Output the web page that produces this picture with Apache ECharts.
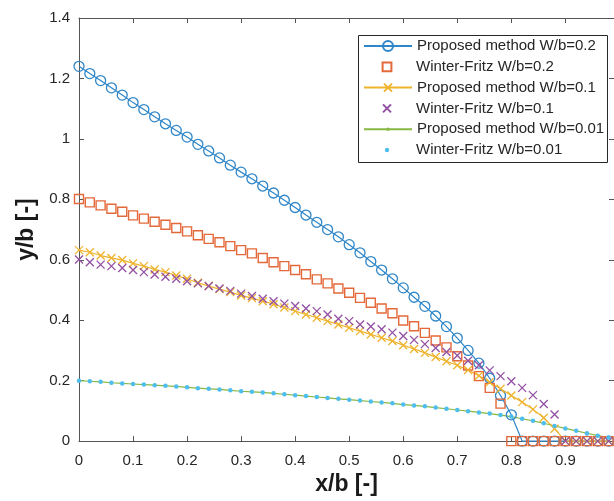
<!DOCTYPE html>
<html>
<head>
<meta charset="utf-8">
<script src="https://cdn.jsdelivr.net/npm/echarts@6/dist/echarts.min.js"></script>
<style>html,body{margin:0;padding:0;background:#fff}#c{width:614px;height:501px}</style>
</head>
<body>
<div id="c"></div>
<script>
// ---- data ----
const xValues = [0,0.02,0.04,0.06,0.08,0.10,0.12,0.14,0.16,0.18,0.20,0.22,0.24,0.26,0.28,0.30,0.32,0.34,0.36,0.38,0.40,0.42,0.44,0.46,0.48,0.50,0.52,0.54,0.56,0.58,0.60,0.62,0.64,0.66,0.68,0.70,0.72,0.74,0.76,0.78,0.80,0.82,0.84,0.86,0.88,0.90,0.92,0.94,0.96,0.98];

const proposedW02 = [1.240,1.216,1.193,1.169,1.145,1.120,1.097,1.073,1.050,1.028,1.006,0.982,0.960,0.937,0.913,0.890,0.868,0.844,0.821,0.797,0.773,0.748,0.724,0.700,0.676,0.650,0.623,0.594,0.566,0.537,0.507,0.476,0.446,0.414,0.379,0.341,0.300,0.258,0.208,0.151,0.087,0,0,0,0,0,0,0,0,0];
const winterFritzW02 = [0.801,0.790,0.780,0.769,0.759,0.747,0.736,0.726,0.716,0.705,0.694,0.681,0.669,0.658,0.645,0.632,0.621,0.606,0.592,0.579,0.566,0.552,0.535,0.522,0.505,0.491,0.474,0.458,0.439,0.423,0.399,0.380,0.358,0.333,0.310,0.281,0.250,0.215,0.176,0.124,0,0,0,0,0,0,0,0,0,0];
const proposedW01 = [0.632,0.625,0.614,0.606,0.599,0.588,0.579,0.568,0.559,0.548,0.537,0.524,0.513,0.503,0.493,0.482,0.473,0.463,0.453,0.442,0.430,0.419,0.408,0.397,0.386,0.375,0.364,0.353,0.342,0.331,0.317,0.305,0.292,0.278,0.264,0.251,0.235,0.216,0.195,0.173,0.151,0.129,0.105,0.077,0.041,0,0,0,0,0];
const winterFritzW01 = [0.601,0.592,0.584,0.579,0.573,0.566,0.559,0.551,0.544,0.537,0.529,0.522,0.513,0.505,0.497,0.488,0.480,0.471,0.463,0.455,0.447,0.439,0.430,0.419,0.405,0.397,0.386,0.379,0.370,0.359,0.348,0.335,0.321,0.308,0.295,0.283,0.266,0.251,0.234,0.215,0.198,0.176,0.152,0.123,0.088,0,0,0,0,0];
const proposedW001 = [0.200,0.198,0.196,0.193,0.191,0.189,0.187,0.185,0.183,0.181,0.178,0.175,0.173,0.171,0.168,0.165,0.163,0.161,0.158,0.155,0.152,0.149,0.146,0.143,0.140,0.137,0.134,0.131,0.128,0.125,0.121,0.118,0.115,0.111,0.107,0.103,0.099,0.095,0.091,0.086,0.081,0.074,0.067,0.059,0.050,0.042,0.034,0.026,0.018,0.012];
const winterFritzW001 = [0.200,0.198,0.196,0.193,0.191,0.189,0.187,0.185,0.183,0.181,0.178,0.175,0.173,0.171,0.168,0.165,0.163,0.161,0.158,0.155,0.152,0.149,0.146,0.143,0.140,0.137,0.134,0.131,0.128,0.125,0.121,0.118,0.115,0.111,0.107,0.103,0.099,0.095,0.091,0.086,0.081,0.074,0.067,0.059,0.050,0.042,0.034,0.026,0.018,0.012];

const seriesNames = ['Proposed method W/b=0.2','Winter-Fritz W/b=0.2','Proposed method W/b=0.1','Winter-Fritz W/b=0.1','Proposed method W/b=0.01','Winter-Fritz W/b=0.01'];
const xTickLabels = ['0','0.1','0.2','0.3','0.4','0.5','0.6','0.7','0.8','0.9'];
const yTickLabels = ['0','0.2','0.4','0.6','0.8','1','1.2','1.4'];
const xTitle = 'x/b [-]';
const yTitle = 'y/b [-]';

// ---- styling ----
const FONT = '"Liberation Sans", Arial, Helvetica, sans-serif';
const C = {blue:'#2f86c8', orange:'#e4693a', yellow:'#efb32e', purple:'#9250a2', green:'#86b843', cyan:'#4dbeee'};
const AX = '#555';
const XMARK = 'path://M0,0L10,10M10,0L0,10';

function pairs(ys){ return xValues.map((x,i)=>[x, ys[i]]); }
function fmtX(v){ const s = String(Math.round(v*10)/10); return xTickLabels.indexOf(s) >= 0 ? s : ''; }
function fmtY(v){ const s = String(Math.round(v*10)/10); return yTickLabels.indexOf(s) >= 0 ? s : ''; }

const axisLine = {show:true, onZero:false, lineStyle:{color:AX, width:1}};
const axisTick = {show:true, inside:true, length:5, lineStyle:{color:AX, width:1}};

const option = {
  animation:false,
  backgroundColor:'#fff',
  grid:{left:79, top:18, width:539, height:424, containLabel:false},
  xAxis:[
    {type:'value', position:'bottom', min:0, max:0.99, interval:0.1,
     axisLine, axisTick, splitLine:{show:false},
     axisLabel:{fontSize:15, color:'#262626', fontFamily:FONT, margin:12, showMaxLabel:false, formatter:fmtX},
     name:xTitle, nameLocation:'middle', nameGap:24,
     nameTextStyle:{fontSize:23, fontWeight:'bold', color:'#1a1a1a', fontFamily:FONT}},
    {type:'value', position:'top', min:0, max:0.99, interval:0.1,
     axisLine, axisTick, splitLine:{show:false}, axisLabel:{show:false}}
  ],
  yAxis:[
    {type:'value', position:'left', min:0, max:1.4, interval:0.2,
     axisLine, axisTick, splitLine:{show:false},
     axisLabel:{fontSize:15, color:'#262626', fontFamily:FONT, margin:9, formatter:fmtY},
     name:yTitle, nameLocation:'middle', nameGap:37, nameRotate:90,
     nameTextStyle:{fontSize:23, fontWeight:'bold', color:'#1a1a1a', fontFamily:FONT}},
    {type:'value', position:'right', min:0, max:1.4, interval:0.2,
     axisLine, axisTick, splitLine:{show:false}, axisLabel:{show:false}}
  ],
  graphic:[{type:'rect', z:3, shape:{x:358.5, y:35.5, width:249, height:127},
            style:{fill:'#fff', stroke:'#262626', lineWidth:1}}],
  legend: [
    [0, 12.5], [1, 11], [2, 10], [3, 10], [4, 4], [5, 5.5]
  ].map(([i, h]) => ({
    show:true, data:[seriesNames[i]], orient:'horizontal', left:363, top:35.6 + i*20.8,
    padding:0, itemGap:0, itemWidth:48, itemHeight:h, selectedMode:false, z:5,
    textStyle:{fontSize:15, color:'#262626', lineHeight:20.8, fontFamily:FONT}
  })),
  series:[
    {name:seriesNames[0], type:'line', data:pairs(proposedW02), symbol:'circle', symbolSize:10, showAllSymbol:true, clip:false,
     lineStyle:{color:C.blue, width:1.2}, itemStyle:{color:'transparent', borderColor:C.blue, borderWidth:1.3}},
    {name:seriesNames[1], type:'line', data:pairs(winterFritzW02), symbol:'rect', symbolSize:9, showAllSymbol:true, clip:false,
     lineStyle:{color:C.orange, width:0, opacity:0}, itemStyle:{color:'transparent', borderColor:C.orange, borderWidth:1.4}},
    {name:seriesNames[2], type:'line', data:pairs(proposedW01), symbol:XMARK, symbolSize:8, showAllSymbol:true, clip:false,
     lineStyle:{color:C.yellow, width:1.2}, itemStyle:{color:'transparent', borderColor:C.yellow, borderWidth:1.3}},
    {name:seriesNames[3], type:'line', data:pairs(winterFritzW01), symbol:XMARK, symbolSize:8, showAllSymbol:true, clip:false,
     lineStyle:{color:C.purple, width:0, opacity:0}, itemStyle:{color:'transparent', borderColor:C.purple, borderWidth:1.3}},
    {name:seriesNames[4], type:'line', data:pairs(proposedW001), symbol:'circle', symbolSize:3, showAllSymbol:true, clip:false,
     lineStyle:{color:C.green, width:1.2}, itemStyle:{color:C.green, borderWidth:0}},
    {name:seriesNames[5], type:'line', data:pairs(winterFritzW001), symbol:'circle', symbolSize:4.5, showAllSymbol:true, clip:false,
     lineStyle:{color:C.cyan, width:0, opacity:0}, itemStyle:{color:C.cyan, borderWidth:0}}
  ]
};

const chart = echarts.init(document.getElementById('c'), null, {renderer:'canvas'});
chart.setOption(option);
</script>
</body>
</html>
